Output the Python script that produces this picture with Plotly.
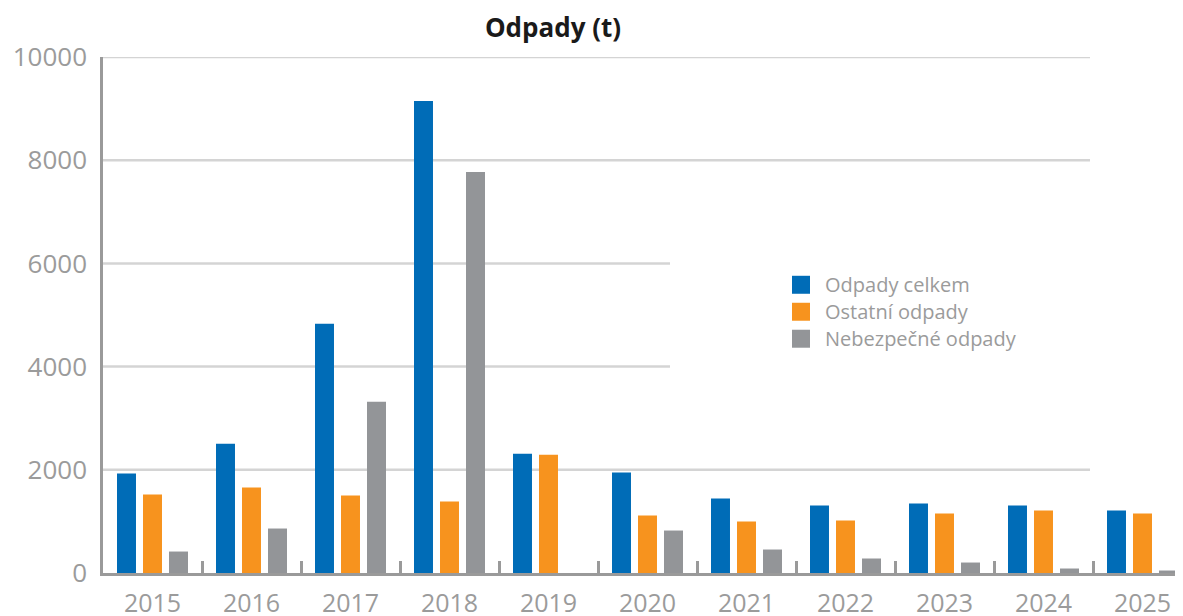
import plotly.graph_objects as go

years = ["2015", "2016", "2017", "2018", "2019", "2020", "2021", "2022", "2023", "2024", "2025"]
odpady_celkem = [1926, 2507, 4830, 9148, 2313, 1946, 1442, 1307, 1346, 1307, 1210]
ostatni_odpady = [1520, 1655, 1500, 1384, 2294, 1113, 997, 1016, 1152, 1210, 1152]
nebezpecne_odpady = [416, 862, 3320, 7773, 0, 823, 455, 281, 203, 87, 48]

series_names = ["Odpady celkem", "Ostatní odpady", "Nebezpečné odpady"]
series_values = [odpady_celkem, ostatni_odpady, nebezpecne_odpady]
series_colors = ["#006cb7", "#f7931e", "#939598"]

y_ticks = [0, 2000, 4000, 6000, 8000, 10000]

# the page places the figure 8px in from the top-left corner of the window
OFF = 8
W, H = 1183, 616
ML = 103 - OFF
MT = 57 - OFF
MB = H - (573.5 - OFF)
MR = 0
PW = W - ML - MR
PH = H - MT - MB
CAT_W = 99.0
FONT = "Open Sans, Noto Sans, sans-serif"


def px_x(x):
    """screen x (window pixels) -> paper fraction"""
    return (x - OFF - ML) / PW


def px_y(y):
    """screen y (window pixels) -> paper fraction"""
    return (H - MB - (y - OFF)) / PH


fig = go.Figure()
for name, vals, col in zip(series_names, series_values, series_colors):
    fig.add_trace(go.Bar(x=years, y=vals, name=name, marker=dict(color=col, line=dict(width=0)),
                         showlegend=False))

fig.update_layout(
    width=W, height=H,
    margin=dict(l=ML, r=MR, t=MT, b=MB, pad=0, autoexpand=False),
    paper_bgcolor="white", plot_bgcolor="white",
    barmode="group", bargap=0.212, bargroupgap=0.27,
    title=dict(text="<b>Odpady (t)</b>", x=(553 - OFF) / W, xref="container", xanchor="center",
               y=1 - (28 - OFF) / H, yref="container", yanchor="middle",
               font=dict(family=FONT, size=26, color="#1a1a1a")),
    xaxis=dict(type="category", range=[-0.5, -0.5 + PW / CAT_W], showgrid=False, automargin=False,
               showline=True, linecolor="#9a9a9a", linewidth=2.5,
               ticks="inside", tickson="boundaries", ticklen=12, tickwidth=2.5, tickcolor="#9a9a9a",
               ticklabelstandoff=6,
               tickfont=dict(family=FONT, size=25, color="#9b9b9b"),
               fixedrange=True),
    yaxis=dict(range=[0, 10000], tickvals=y_ticks, ticktext=[str(v) for v in y_ticks],
               showgrid=False, zeroline=False, automargin=False,
               showline=True, linecolor="#9a9a9a", linewidth=2.5, ticks="",
               ticklabelstandoff=8, tickfont=dict(family=FONT, size=26, color="#9b9b9b"),
               fixedrange=True),
    showlegend=False,
)

# gridlines (interrupted by the legend area for the middle two)
for v in y_ticks[1:]:
    right_end = 670 if v in (4000, 6000) else 1090
    fig.add_shape(type="line", xref="paper", yref="y", layer="below",
                  x0=0, x1=px_x(right_end), y0=v, y1=v,
                  line=dict(color="#d4d4d4", width=2.5))

# legend drawn manually
leg_x0 = 792
leg_y0 = 276
row_h = 27
sq = 18
for i, (name, col) in enumerate(zip(series_names, series_colors)):
    top = leg_y0 + i * row_h
    fig.add_shape(type="rect", xref="paper", yref="paper", layer="above",
                  x0=px_x(leg_x0), x1=px_x(leg_x0 + sq), y0=px_y(top + sq), y1=px_y(top),
                  fillcolor=col, line=dict(width=0))
    fig.add_annotation(xref="paper", yref="paper", x=px_x(823), y=px_y(top + sq / 2),
                       xanchor="left", yanchor="middle", showarrow=False, text=name,
                       font=dict(family=FONT, size=20, color="#9b9b9b"))

fig.write_html("out.html")
